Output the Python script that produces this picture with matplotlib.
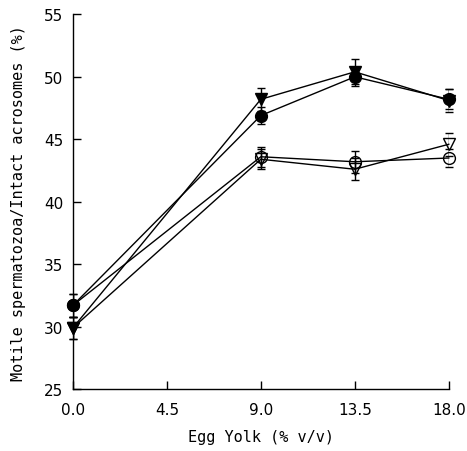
import matplotlib
matplotlib.use("Agg")
import matplotlib.pyplot as plt
import numpy as np

egg_yolk = [0.0, 9.0, 13.5, 18.0]
x_ticks = [0.0, 4.5, 9.0, 13.5, 18.0]
x_tick_labels = ["0.0", "4.5", "9.0", "13.5", "18.0"]
y_ticks = [25, 30, 35, 40, 45, 50, 55]

filled_circle = [31.7, 46.9, 50.0, 48.2]
filled_circle_err = [0.9, 0.7, 0.7, 0.8]
filled_triangle = [29.9, 48.2, 50.4, 48.1]
filled_triangle_err = [0.9, 0.9, 1.0, 0.9]
open_circle = [31.7, 43.6, 43.2, 43.5]
open_circle_err = [0.9, 0.8, 0.9, 0.7]
open_triangle = [29.9, 43.4, 42.6, 44.6]
open_triangle_err = [0.9, 0.8, 0.9, 0.9]

plt.rcParams['font.family'] = ['DejaVu Sans']
fig = plt.figure(figsize=(4.67, 4.52), dpi=100)
ax = fig.add_axes([0.156, 0.137, 0.805, 0.829])

common = dict(color='black', ecolor='black', elinewidth=1.0, capsize=3,
              capthick=1.0, linewidth=1.0, markersize=8.5, markeredgewidth=1.0)

ax.errorbar(egg_yolk, open_circle, yerr=open_circle_err, fmt='-o',
            markerfacecolor='none', zorder=2, **common)
ax.errorbar(egg_yolk, open_triangle, yerr=open_triangle_err, fmt='-v',
            markerfacecolor='none', zorder=2, **common)
ax.errorbar(egg_yolk, filled_triangle, yerr=filled_triangle_err, fmt='-v',
            markerfacecolor='black', zorder=3, **common)
ax.errorbar(egg_yolk, filled_circle, yerr=filled_circle_err, fmt='-o',
            markerfacecolor='black', zorder=3, **common)

ax.set_xlim(0, 18)
ax.set_ylim(25, 55)
ax.set_xticks(x_ticks)
ax.set_xticklabels(x_tick_labels)
ax.set_yticks(y_ticks)
for s in ['top', 'right']:
    ax.spines[s].set_visible(False)
for s in ['left', 'bottom']:
    ax.spines[s].set_linewidth(1.0)
ax.tick_params(axis='both', which='both', direction='in', length=6,
               width=1.0, labelsize=11)
ax.tick_params(axis='y', pad=7)
ax.tick_params(axis='x', pad=9)

mono = ['DejaVu Sans Mono']
ax.set_xlabel("Egg Yolk (% v/v)", fontsize=11, family=mono)
ax.set_ylabel("Motile spermatozoa/Intact acrosomes (%)", fontsize=11, family=mono)
ax.xaxis.set_label_coords(0.5, -0.107)
ax.yaxis.set_label_coords(-0.125, 0.5)
ax.patch.set_visible(False)
for line in ax.get_lines():
    line.set_clip_on(False)

fig.savefig("out.png", dpi=100)
